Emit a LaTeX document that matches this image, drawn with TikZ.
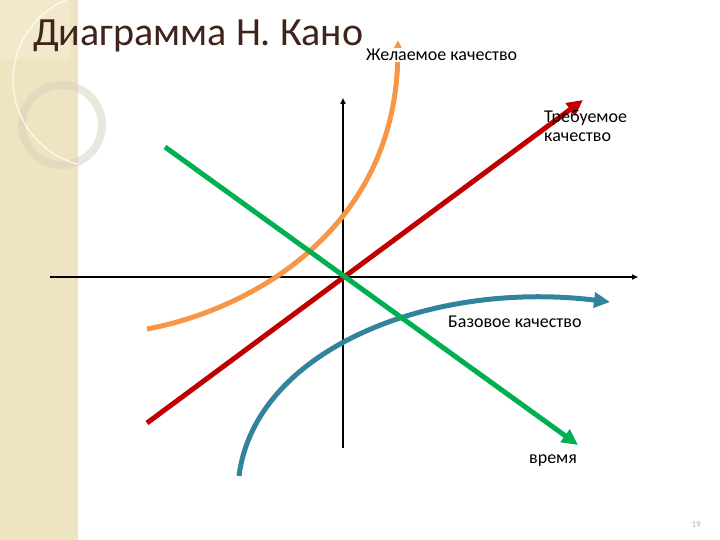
\documentclass[tikz,border=0pt]{standalone}
\usepackage{fontspec}
\setmainfont{Carlito}
\usetikzlibrary{positioning,arrows.meta}
\definecolor{kanored}{RGB}{192,0,0}
\definecolor{kanogreen}{RGB}{0,176,80}
\definecolor{kanoorange}{RGB}{247,150,70}
\definecolor{kanoblue}{RGB}{49,132,155}
\definecolor{titlebrown}{RGB}{64,36,28}
\definecolor{stripbeige}{RGB}{239,228,193}
\definecolor{ringgrey}{RGB}{214,207,188}
\definecolor{pagegrey}{RGB}{175,188,165}
\tikzset{
  axisline/.style={line width=1.6pt,-{Triangle[length=6pt,width=5pt]}},
  kanoline/.style={line width=5pt,-{Triangle[length=16pt,width=15pt]}},
  kanolabel/.style={font=\fontsize{18}{19}\selectfont,inner sep=1pt,align=left}
}

\begin{document}
\begin{tikzpicture}[x=1pt,y=-1pt]
  \useasboundingbox (0,0) rectangle (720,540);
  % decorative strip
  \fill[stripbeige] (0,0) rectangle (78,540);
  \fill[white,opacity=0.2] (0,0) rectangle (70,60);
  \draw[ringgrey,line width=8pt,opacity=0.5] (62,125) circle (40);
  \begin{scope}
    \clip (0,0) rectangle (78,540);
    \draw[white,line width=1.2pt,opacity=0.8] (100,80) circle (87);
  \end{scope}

  % title
  \node[anchor=base west,font=\fontsize{40}{48}\selectfont,text=titlebrown,inner sep=0pt]
    (title) at (33,46) {Диаграмма Н. Кано};

  % axes
  \coordinate (hleft)   at (50,277);
  \coordinate (hright)  at (638,277);
  \coordinate (vbottom) at (343,448);
  \coordinate (vtop)    at (343,98);
  \draw[axisline] (hleft) -- (hright);
  \draw[axisline] (vbottom) -- (vtop);

  % curves
  \coordinate (redstart)    at (147,423);
  \coordinate (redend)      at (583,100);
  \coordinate (greenstart)  at (165,147);
  \coordinate (greenend)    at (578,445);
  \coordinate (orangestart) at (147,329);
  \coordinate (orangeend)   at (398,40);
  \coordinate (bluestart)   at (239,476);
  \coordinate (blueend)     at (610,302);
  \draw[kanoline,kanoorange] (orangestart) .. controls (250,310) and (396,230) .. (orangeend);
  \draw[kanoline,kanoblue] (bluestart) .. controls (255,350) and (430,280) .. (blueend);
  \draw[kanoline,kanored] (redstart) -- (redend);
  \draw[kanoline,kanogreen] (greenstart) -- (greenend);

  % labels
  \node[kanolabel,fill=white,anchor=base west] (wanted) at (365,61) {Желаемое качество};
  \node[kanolabel,anchor=base west] (required) at (543,142) {Требуемое\\качество};
  \node[kanolabel,anchor=base west] (basic) at (447,327) {Базовое качество};
  \node[kanolabel,anchor=base west] (time) at (528,463) {время};
  \node[anchor=base east,font=\fontsize{9}{10}\selectfont,text=pagegrey,inner sep=0pt]
    (page) at (701,527) {19};
\end{tikzpicture}
\end{document}
